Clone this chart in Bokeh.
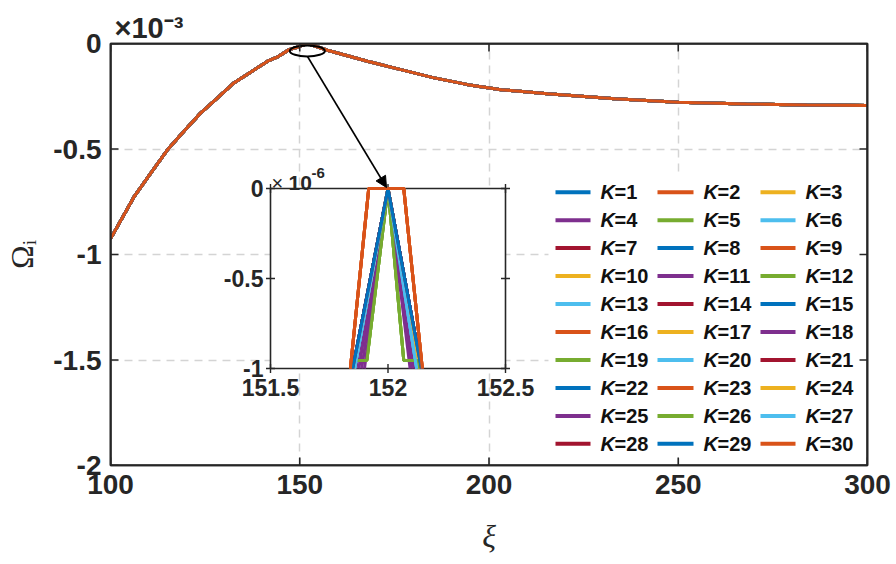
import math

from bokeh.plotting import figure
from bokeh.models import Range1d, FixedTicker, LinearAxis, Label, Arrow, NormalHead, Title
from bokeh.embed import file_html
from bokeh.resources import INLINE
from bokeh.core.properties import value

# ---------------- data ----------------
# growth rate Omega_i (units of 1e-3) against xi; all K collapse onto this curve
xi_main = [100.0, 106.2, 110.6, 115.0, 119.4, 123.8, 128.2, 132.6, 137.0, 141.5,
           144.0, 147.2, 149.3, 152.0, 157.3, 167.9, 176.7, 185.5, 194.4, 203.2,
           215.5, 233.2, 250.0, 268.0, 284.0, 300.0]
omega_main = [-0.926, -0.727, -0.615, -0.505, -0.416, -0.330, -0.259, -0.187, -0.136, -0.084,
              -0.065, -0.029, -0.018, 0.0, -0.032, -0.084, -0.124, -0.163, -0.195, -0.219,
              -0.238, -0.262, -0.278, -0.287, -0.291, -0.294]

K_values = list(range(1, 31))
line_colors = ["#0072BD", "#D95319", "#EDB120", "#7E2F8E", "#77AC30", "#4DBEEE", "#A2142F"]

# close-up of the peak: xi and Omega_i (units of 1e-6) for each K
tri_omega = [-1.0, 0.0, -1.0]
flat_omega = [-1.0, 0.0, 0.0, -1.0]
shoulder_omega = [-1.0, -0.955, -0.955, 0.0, -0.955, -0.955, -1.0]
flat_xi = [151.840, 151.918, 152.067, 152.146]
shoulder_xi = [151.855, 151.862, 151.910, 152.000, 152.067, 152.128, 152.135]

inset_xi = {
    1: [151.850, 152.0, 152.142], 2: flat_xi, 3: [151.856, 152.0, 152.134],
    4: [151.864, 152.0, 152.118], 5: shoulder_xi, 6: [151.858, 152.0, 152.122],
    7: [151.850, 152.0, 152.142], 8: [151.850, 152.0, 152.142], 9: flat_xi,
    10: [151.856, 152.0, 152.134], 11: [151.876, 152.0, 152.110], 12: shoulder_xi,
    13: [151.858, 152.0, 152.122], 14: [151.850, 152.0, 152.142], 15: [151.850, 152.0, 152.142],
    16: flat_xi, 17: [151.856, 152.0, 152.134], 18: [151.888, 152.0, 152.102],
    19: shoulder_xi, 20: [151.858, 152.0, 152.122], 21: [151.850, 152.0, 152.142],
    22: [151.850, 152.0, 152.142], 23: flat_xi, 24: [151.856, 152.0, 152.134],
    25: [151.900, 152.0, 152.094], 26: shoulder_xi, 27: [151.858, 152.0, 152.122],
    28: [151.850, 152.0, 152.142], 29: [151.850, 152.0, 152.142], 30: flat_xi,
}
inset_omega = {k: (flat_omega if inset_xi[k] is flat_xi else
                   shoulder_omega if inset_xi[k] is shoulder_xi else tri_omega)
               for k in K_values}

x_ticks = [100, 150, 200, 250, 300]
y_ticks = [-2, -1.5, -1, -0.5, 0]
y_tick_labels = ["-2", "-1.5", "-1", "-0.5", "0"]
x_grid = [150, 200, 250]
y_grid = [-1.5, -1, -0.5]
inset_x_ticks = [151.5, 152.0, 152.5]
inset_x_tick_labels = ["151.5", "152", "152.5"]
inset_y_ticks = [-1.0, -0.5, 0.0]
inset_y_tick_labels = ["-1", "-0.5", "0"]

peak_xi, peak_omega = 152.0, -0.035   # circled region on the main curve

# ---------------- layout ----------------
W, H = 896, 564
FL, FR, FT, FB = 110, 867, 43, 465          # plot frame edges, px
X_RANGE, Y_RANGE = (100, 300), (-2, 0)
INSET_XLIM, INSET_YLIM = (151.5, 152.5), (-1.0, 0.0)
INK = "#262626"
SANS = "Liberation Sans"
SERIF = "Liberation Serif"


def dx(px):
    return X_RANGE[0] + (px - FL) * (X_RANGE[1] - X_RANGE[0]) / (FR - FL)


def dy(py):
    return Y_RANGE[1] - (py - FT) * (Y_RANGE[1] - Y_RANGE[0]) / (FB - FT)


p = figure(width=W, height=H, x_range=Range1d(*X_RANGE), y_range=Range1d(*Y_RANGE),
           output_backend="svg", toolbar_location=None,
           min_border_left=FL, min_border_right=W - FR, min_border_top=FT,
           min_border_bottom=H - FB)
p.background_fill_color = "white"
p.border_fill_color = "white"
p.outline_line_color = INK
p.outline_line_width = 1.6

bottom_axis = p.below[0]
left_axis = p.left[0]
top_axis = LinearAxis()
right_axis = LinearAxis()
p.add_layout(top_axis, "above")
p.add_layout(right_axis, "right")

bottom_axis.ticker = FixedTicker(ticks=x_ticks)
top_axis.ticker = FixedTicker(ticks=x_ticks)
left_axis.ticker = FixedTicker(ticks=y_ticks)
right_axis.ticker = FixedTicker(ticks=y_ticks)
left_axis.major_label_overrides = dict(zip(y_ticks, y_tick_labels))
top_axis.major_label_overrides = {t: "" for t in x_ticks}
right_axis.major_label_overrides = {t: "" for t in y_ticks}

for ax in [bottom_axis, left_axis, top_axis, right_axis]:
    ax.axis_line_color = INK
    ax.axis_line_width = 1.6
    ax.major_tick_in = 0
    ax.major_tick_out = 0
    ax.major_tick_line_color = None      # inward ticks are drawn inside the frame below
    ax.minor_tick_line_color = None
    ax.major_label_text_font = SANS
    ax.major_label_text_font_style = "bold"
    ax.major_label_text_font_size = "28px"
    ax.major_label_text_color = INK
    ax.major_label_standoff = 9
top_axis.major_label_standoff = 0
right_axis.major_label_standoff = 0

bottom_axis.axis_label = "ξ"
bottom_axis.axis_label_text_font = SERIF
bottom_axis.axis_label_text_font_style = "italic"
bottom_axis.axis_label_text_font_size = "32px"
bottom_axis.axis_label_text_color = INK
bottom_axis.axis_label_standoff = 21

left_axis.axis_label = "Ωᵢ"
left_axis.axis_label_text_font = SERIF
left_axis.axis_label_text_font_style = "normal"
left_axis.axis_label_text_font_size = "32px"
left_axis.axis_label_text_color = INK
left_axis.axis_label_standoff = 10

# exponent of the main y axis
p.title = Title(text="×10⁻³", align="left", offset=4, standoff=0,
                text_font=SANS, text_font_style="bold", text_font_size="29px",
                text_color=INK)

# dashed grid on the interior tick positions
p.xgrid.ticker = FixedTicker(ticks=x_grid)
p.ygrid.ticker = FixedTicker(ticks=y_grid)
p.grid.grid_line_color = "#d4d4d4"
p.grid.grid_line_width = 1.5
p.grid.grid_line_dash = "8 6"

# main curves, one per K (they coincide)
for k in K_values:
    p.line(xi_main, omega_main, line_color=line_colors[(k - 1) % 7], line_width=3)

# circled peak and pointer into the close-up
p.ellipse(x=[peak_xi], y=[peak_omega], width=35, height=11,
          width_units="screen", height_units="screen",
          fill_color=None, line_color="black", line_width=2)
p.add_layout(Arrow(x_start=dx(307), y_start=dy(56), x_end=dx(386), y_end=dy(187),
                   line_color="black", line_width=1.6,
                   end=NormalHead(size=11, fill_color="black", line_color="black")))

# ---------------- close-up of the peak ----------------
inset = p.subplot(x_source=Range1d(*INSET_XLIM), y_source=Range1d(*INSET_YLIM),
                  x_target=Range1d(dx(270), dx(505)), y_target=Range1d(dy(368), dy(188)))
inset.quad(left=[INSET_XLIM[0]], right=[INSET_XLIM[1]],
           bottom=[INSET_YLIM[0]], top=[INSET_YLIM[1]],
           fill_color="white", line_color=INK, line_width=1.6)
# short inward ticks on all four sides of the close-up
inset.scatter(x=inset_x_ticks * 2, y=[INSET_YLIM[0]] * 3 + [INSET_YLIM[1]] * 3,
              marker="dash", size=9, angle=math.pi / 2, line_color=INK, line_width=1.4)
inset.scatter(x=[INSET_XLIM[0]] * 3 + [INSET_XLIM[1]] * 3, y=inset_y_ticks * 2,
              marker="dash", size=9, line_color=INK, line_width=1.4)

for k in K_values:
    inset.line(inset_xi[k], inset_omega[k], line_color=line_colors[(k - 1) % 7], line_width=3)

inset.text(x=inset_x_ticks, y=[INSET_YLIM[0]] * 3, text=inset_x_tick_labels,
           text_align="center", text_baseline="top", y_offset=10,
           text_font=value(SANS), text_font_style="bold", text_font_size="23px",
           text_color=INK)
inset.text(x=[INSET_XLIM[0]] * 3, y=inset_y_ticks, text=inset_y_tick_labels,
           text_align="right", text_baseline="middle", x_offset=-7,
           text_font=value(SANS), text_font_style="bold", text_font_size="23px",
           text_color=INK)


def add_label(px, py, text, size, style="bold"):
    p.add_layout(Label(x=dx(px), y=dy(py), text=text, text_font=SANS,
                       text_font_size=size, text_font_style=style, text_color=INK,
                       text_align="left", text_baseline="alphabetic"))


# exponent of the close-up's y axis
add_label(271, 182, "×", "20px", style="normal")
add_label(288, 182, "10", "21px")
add_label(311, 172, "-6", "15px")

# ---------------- legend ----------------
p.quad(left=[dx(548)], right=[dx(865)], top=[dy(173)], bottom=[dy(458)],
       fill_color="white", line_color=None)
row_py = [191.7 + 27.96 * r for r in range(10)]
col_line_px = [(555, 590), (657, 693), (760, 795)]
col_text_px = [600, 703, 805]
lx0, lx1, ly, tx, lc, lab = [], [], [], [], [], []
for k in K_values:
    r, c = divmod(k - 1, 3)
    lx0.append(dx(col_line_px[c][0]))
    lx1.append(dx(col_line_px[c][1]))
    ly.append(dy(row_py[r]))
    tx.append(dx(col_text_px[c]))
    lc.append(line_colors[(k - 1) % 7])
    lab.append(f"={k}")
p.segment(x0=lx0, x1=lx1, y0=ly, y1=ly, line_color=lc, line_width=4)
p.text(x=tx, y=ly, text=["K"] * len(K_values), text_baseline="middle",
       text_font=value(SANS), text_font_style="bold italic", text_font_size="20px",
       text_color="#111111")
p.text(x=tx, y=ly, text=lab, text_baseline="middle", x_offset=14,
       text_font=value(SANS), text_font_style="bold", text_font_size="20px",
       text_color="#111111")

# ---------------- box and inward ticks of the main axes ----------------
# (drawn inside the frame; the frame clips the outer half of each mark)
p.quad(left=[X_RANGE[0]], right=[X_RANGE[1]], bottom=[Y_RANGE[0]], top=[Y_RANGE[1]],
       fill_color=None, line_color=INK, line_width=2.4)
p.scatter(x=x_ticks * 2, y=[Y_RANGE[0]] * 5 + [Y_RANGE[1]] * 5,
          marker="dash", size=16, angle=math.pi / 2, line_color=INK, line_width=1.6)
p.scatter(x=[X_RANGE[0]] * 5 + [X_RANGE[1]] * 5, y=y_ticks * 2,
          marker="dash", size=16, line_color=INK, line_width=1.6)

open("out.html", "w").write(file_html(p, INLINE))
